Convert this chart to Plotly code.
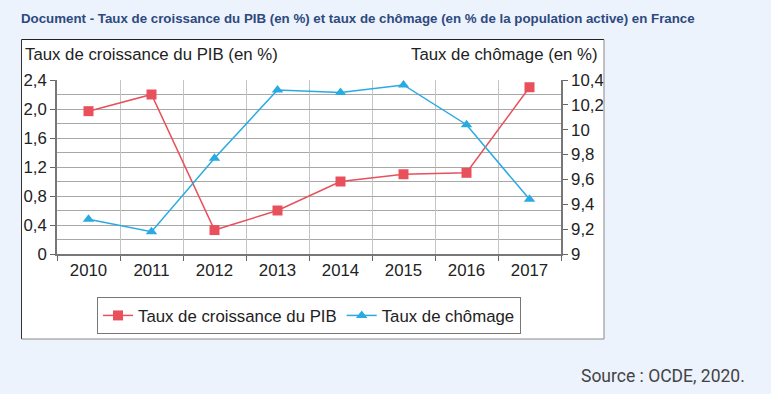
import plotly.graph_objects as go

years = ["2010", "2011", "2012", "2013", "2014", "2015", "2016", "2017"]
pib = [1.97, 2.20, 0.33, 0.60, 1.00, 1.10, 1.12, 2.30]
chomage = [9.28, 9.18, 9.77, 10.32, 10.30, 10.36, 10.04, 9.44]

left_ticks = [0, 0.4, 0.8, 1.2, 1.6, 2.0, 2.4]
left_labels = ["0", "0,4", "0,8", "1,2", "1,6", "2,0", "2,4"]
right_ticks = [9, 9.2, 9.4, 9.6, 9.8, 10, 10.2, 10.4]
right_labels = ["9", "9,2", "9,4", "9,6", "9,8", "10", "10,2", "10,4"]

title = "Document - Taux de croissance du PIB (en %) et taux de chômage (en % de la population active) en France"
left_title = "Taux de croissance du PIB (en %)"
right_title = "Taux de chômage (en %)"
source = "Source : OCDE, 2020."

W, H = 771, 394
L, R, T, B = 57, 561, 80, 254


def px(x):
    return (x - L) / (R - L)


def py(y):
    return (B - y) / (B - T)


RED = "#e8505b"
BLUE = "#2aaae2"
FONT = "Liberation Sans, Arial, sans-serif"
FS = 16.8

fig = go.Figure()
fig.add_trace(go.Scatter(
    x=years, y=pib, name="Taux de croissance du PIB", mode="lines+markers",
    line=dict(color=RED, width=1.5),
    marker=dict(symbol="square", size=10, color=RED),
    yaxis="y",
))
fig.add_trace(go.Scatter(
    x=years, y=chomage, name="Taux de chômage", mode="lines+markers",
    line=dict(color=BLUE, width=1.5),
    marker=dict(symbol="triangle-up", size=10, color=BLUE),
    yaxis="y2",
))

shapes = [
    dict(type="rect", xref="paper", yref="paper", x0=px(21.5), x1=px(604), y0=py(339), y1=py(39.5),
         fillcolor="white", line=dict(width=0), layer="below"),
    dict(type="line", xref="paper", yref="paper", x0=px(21.5), x1=px(604), y0=py(39.5), y1=py(39.5),
         line=dict(color="#222222", width=1.2)),
    dict(type="line", xref="paper", yref="paper", x0=px(21.5), x1=px(21.5), y0=py(339), y1=py(39.5),
         line=dict(color="#333333", width=1)),
    dict(type="line", xref="paper", yref="paper", x0=px(604), x1=px(604), y0=py(339), y1=py(39.5),
         line=dict(color="#888888", width=1)),
    dict(type="line", xref="paper", yref="paper", x0=px(21.5), x1=px(604), y0=py(339), y1=py(339),
         line=dict(color="#888888", width=1)),
]

annotations = [
    dict(text="<b>" + title + "</b>", xref="paper", yref="paper", x=px(19), y=py(18),
         xanchor="left", yanchor="middle", showarrow=False,
         font=dict(family="Liberation Sans, Arial, sans-serif", size=13.3, color="#2e4a7d")),
    dict(text=left_title, xref="paper", yref="paper", x=px(23), y=py(55),
         xanchor="left", yanchor="middle", showarrow=False,
         font=dict(family=FONT, size=FS, color="#222222")),
    dict(text=right_title, xref="paper", yref="paper", x=px(600), y=py(55),
         xanchor="right", yanchor="middle", showarrow=False,
         font=dict(family=FONT, size=FS, color="#222222")),
    dict(text=source, xref="paper", yref="paper", x=px(747), y=py(376),
         xanchor="right", yanchor="middle", showarrow=False,
         font=dict(family="Roboto, sans-serif", size=17.5, color="#444444")),
]

fig.update_layout(
    width=W, height=H,
    margin=dict(l=L, r=W - R, t=T, b=H - B, autoexpand=False),
    paper_bgcolor="#ecf3fd",
    plot_bgcolor="white",
    font=dict(family=FONT, size=FS, color="#222222"),
    shapes=shapes,
    annotations=annotations,
    showlegend=True,
    legend=dict(
        orientation="h", x=0.5, xanchor="center", y=py(297), yanchor="top",
        bordercolor="#777777", borderwidth=1, bgcolor="white",
        font=dict(family=FONT, size=FS, color="#222222"),
    ),
    xaxis=dict(
        type="category", tickson="boundaries", ticks="outside", ticklen=5, tickcolor="#666666",
        showline=True, linecolor="#777777", linewidth=1.5,
        showgrid=True, gridcolor="#c4c4c4", gridwidth=1,
        tickfont=dict(size=FS, color="#222222"), range=[-0.5, 7.5], automargin=False,
    ),
    yaxis=dict(
        range=[0, 2.4], tickmode="array", tickvals=left_ticks, ticktext=left_labels,
        ticks="outside", ticklen=5, tickcolor="#666666",
        showline=True, linecolor="#777777", linewidth=1.5,
        showgrid=True, gridcolor="#a8a8a8", gridwidth=1, zeroline=False,
        minor=dict(tickmode="linear", tick0=0, dtick=0.2, showgrid=True, gridcolor="#a8a8a8", gridwidth=1, ticks=""),
        tickfont=dict(size=FS, color="#222222"), automargin=False,
    ),
    yaxis2=dict(
        range=[9, 10.4], tickmode="array", tickvals=right_ticks, ticktext=right_labels,
        overlaying="y", side="right",
        ticks="outside", ticklen=5, tickcolor="#666666",
        showline=True, linecolor="#777777", linewidth=1.5,
        showgrid=False, zeroline=False,
        tickfont=dict(size=FS, color="#222222"), automargin=False,
    ),
)

fig.write_html(
    "out.html",
    config={"displayModeBar": False},
    post_script="document.body.style.margin='0';document.body.style.overflow='hidden';"
                "document.body.style.background='#ecf3fd';",
)
